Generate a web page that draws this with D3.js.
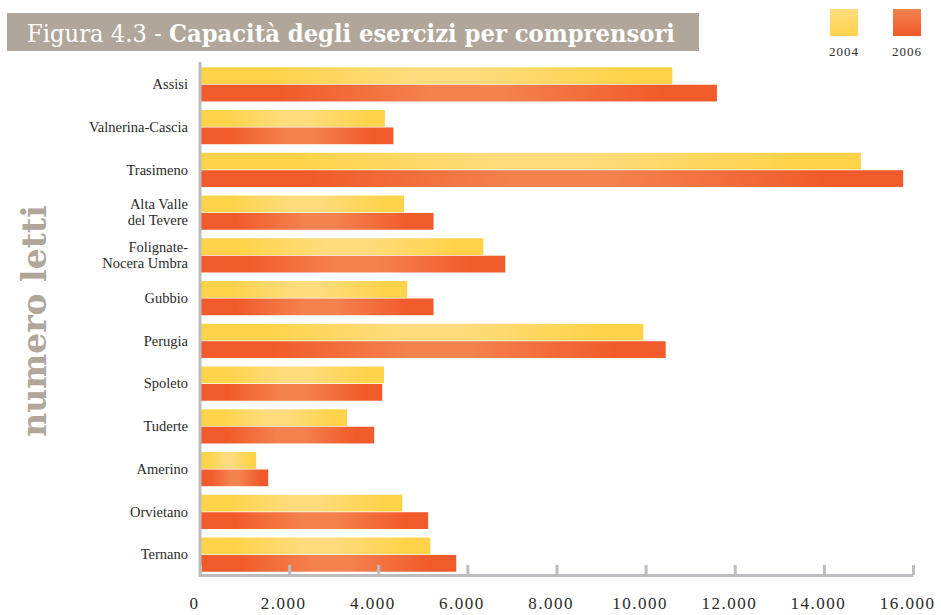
<!DOCTYPE html>
<html>
<head>
<meta charset="utf-8">
<script src="https://cdn.jsdelivr.net/npm/d3@7"></script>
<style>
  body { margin: 0; background: #fff; }
  svg { display: block; }
</style>
</head>
<body>
<script>
// dati del grafico
var comprensori = ["Assisi", "Valnerina-Cascia", "Trasimeno", "Alta Valle\ndel Tevere",
  "Folignate-\nNocera Umbra", "Gubbio", "Perugia", "Spoleto", "Tuderte", "Amerino",
  "Orvietano", "Ternano"];
var anni = ["2004", "2006"];
var letti2004 = [10600, 4150, 14830, 4580, 6360, 4650, 9950, 4130, 3300, 1260, 4540, 5170];
var letti2006 = [11600, 4340, 15780, 5240, 6850, 5240, 10450, 4090, 3910, 1530, 5120, 5750];
var tickWaarden = [0, 2000, 4000, 6000, 8000, 10000, 12000, 14000, 16000];

var breedte = 941, hoogte = 615;
var marge = {boven: 63, links: 200, rechts: 28, beneden: 39};

var svg = d3.select("body").append("svg")
    .attr("width", breedte)
    .attr("height", hoogte);

var defs = svg.append("defs");

// kleuren: donker aan de randen, licht in het midden
var kleuren = {
  "2004": {donker: "#FED34A", licht: "#FEDC7D"},
  "2006": {donker: "#F15A2A", licht: "#F4824F"}
};
anni.forEach(function(a) {
  var g = defs.append("linearGradient").attr("id", "staaf" + a)
      .attr("x1", "0%").attr("x2", "100%").attr("y1", "0%").attr("y2", "0%");
  g.append("stop").attr("offset", "0%").attr("stop-color", kleuren[a].donker);
  g.append("stop").attr("offset", "15%").attr("stop-color", kleuren[a].donker);
  g.append("stop").attr("offset", "45%").attr("stop-color", kleuren[a].licht);
  g.append("stop").attr("offset", "58%").attr("stop-color", kleuren[a].licht);
  g.append("stop").attr("offset", "90%").attr("stop-color", kleuren[a].donker);
  g.append("stop").attr("offset", "100%").attr("stop-color", kleuren[a].donker);

  var v = defs.append("linearGradient").attr("id", "legenda" + a)
      .attr("x1", "0%").attr("x2", "0%").attr("y1", "0%").attr("y2", "100%");
  v.append("stop").attr("offset", "0%").attr("stop-color", kleuren[a].licht);
  v.append("stop").attr("offset", "100%").attr("stop-color", kleuren[a].donker);
});

var x = d3.scaleLinear()
    .domain([0, 16000])
    .range([marge.links, 913]);

var y = d3.scaleBand()
    .domain(comprensori)
    .range([marge.boven, 576])
    .paddingInner(0.2)
    .paddingOuter(0.1);

var sub = d3.scaleBand()
    .domain(anni)
    .range([0, y.bandwidth()])
    .paddingInner(0.04);

// staven
var data = comprensori.map(function(c, i) {
  return {naam: c, waarden: [{anno: "2004", v: letti2004[i]}, {anno: "2006", v: letti2006[i]}]};
});

var groep = svg.append("g").selectAll("g")
    .data(data)
    .enter().append("g")
    .attr("transform", function(d) { return "translate(0," + y(d.naam) + ")"; });

groep.selectAll("rect")
    .data(function(d) { return d.waarden; })
    .enter().append("rect")
    .attr("x", x(0))
    .attr("y", function(d) { return sub(d.anno); })
    .attr("width", function(d) { return x(d.v) - x(0); })
    .attr("height", sub.bandwidth())
    .attr("fill", function(d) { return "url(#staaf" + d.anno + ")"; });

// x-as
var it = d3.formatLocale({decimal: ",", thousands: ".", grouping: [3], currency: ["€", ""]});
var asX = d3.axisBottom(x)
    .tickValues(tickWaarden)
    .tickFormat(it.format(",d"))
    .tickSizeInner(-10)
    .tickSizeOuter(0)
    .tickPadding(22);

var gx = svg.append("g")
    .attr("transform", "translate(0,575)")
    .call(asX);
gx.select(".domain").attr("stroke", "#BCBDC0").attr("stroke-width", 3);
gx.selectAll(".tick line").attr("stroke", "#BCBDC0").attr("stroke-width", 3);
gx.selectAll(".tick text")
    .attr("fill", "#2b2b2b")
    .attr("dx", -6)
    .style("font-family", "'Liberation Serif', serif")
    .style("font-size", "17px")
    .style("letter-spacing", "1.5px");

// y-as
var asY = d3.axisLeft(y).tickSize(0).tickPadding(12).tickFormat("");
var gy = svg.append("g")
    .attr("transform", "translate(" + marge.links + ",0)")
    .call(asY);
gy.select(".domain").attr("stroke", "#BCBDC0").attr("stroke-width", 3)
    .attr("d", "M0,62V577");

gy.selectAll(".tick text").each(function(d) {
  var regels = d.split("\n");
  var t = d3.select(this)
      .attr("fill", "#2b2b2b")
      .style("font-family", "'Liberation Serif', serif")
      .style("font-size", "14.5px")
      .attr("dy", null)
      .attr("x", -12);
  regels.forEach(function(r, k) {
    t.append("tspan")
        .attr("x", -12)
        .attr("y", (k - (regels.length - 1) / 2) * 16)
        .attr("dy", "0.32em")
        .text(r);
  });
});

// titel
svg.append("rect")
    .attr("x", 7).attr("y", 13)
    .attr("width", 692).attr("height", 38)
    .attr("fill", "#B0A699");

var titel = svg.append("text")
    .attr("x", 27).attr("y", 42)
    .attr("fill", "#fff")
    .attr("textLength", 648)
    .attr("lengthAdjust", "spacingAndGlyphs")
    .style("font-family", "'DejaVu Serif', serif")
    .style("font-size", "24px");
titel.append("tspan").style("font-weight", "300").text("Figura 4.3 - ");
titel.append("tspan").style("font-weight", "bold").text("Capacità degli esercizi per comprensori");

// titel y-as
svg.append("text")
    .attr("transform", "translate(46,321) rotate(-90)")
    .attr("text-anchor", "middle")
    .attr("fill", "#B0A699")
    .style("font-family", "'DejaVu Serif', serif")
    .style("font-weight", "bold")
    .style("font-size", "33px")
    .text("numero letti");

// legenda
var legenda = svg.append("g").selectAll("g")
    .data(anni)
    .enter().append("g")
    .attr("transform", function(d, i) { return "translate(" + (830 + i * 63) + ",9)"; });
legenda.append("rect")
    .attr("width", 28).attr("height", 27)
    .attr("fill", function(d) { return "url(#legenda" + d + ")"; });
legenda.append("text")
    .attr("x", 14).attr("y", 47)
    .attr("text-anchor", "middle")
    .attr("fill", "#2b2b2b")
    .style("font-family", "'Liberation Serif', serif")
    .style("font-size", "13px")
    .style("letter-spacing", "1px")
    .text(function(d) { return d; });
</script>
</body>
</html>
